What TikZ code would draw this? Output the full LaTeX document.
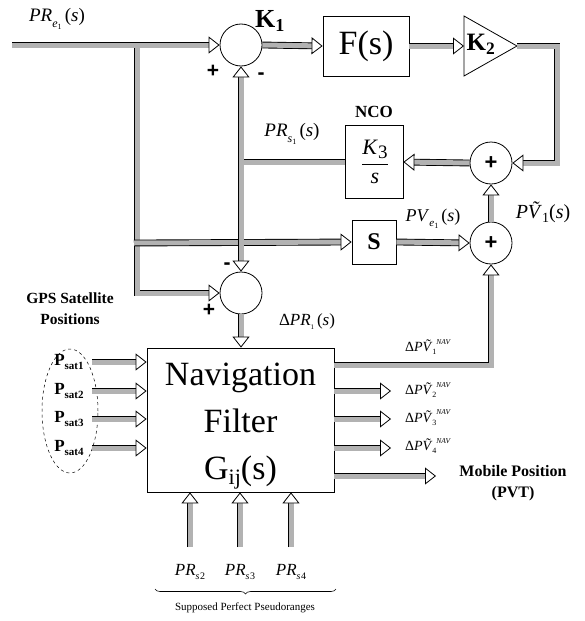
\documentclass[tikz,border=0pt]{standalone}
\usepackage{fontspec}
\setmainfont{Liberation Serif}
\setsansfont{Liberation Sans}
\usetikzlibrary{arrows.meta,shapes.geometric,decorations.pathreplacing,decorations.markings,calc}
\tikzset{
  pipe/.style={line width=0.9pt, draw=black, double=gray!60, double distance=5pt},
  pipearrow/.style={pipe, shorten >=8pt,
    postaction={decorate, decoration={markings, mark=at position 1 with {\arrow[line width=0.8pt, black]{Triangle[open,length=11pt,width=17pt,fill=white]}}}}},
  sumnode/.style={circle, draw, line width=0.8pt, minimum size=42pt, inner sep=0pt, font=\fontsize{22}{22}\selectfont\sffamily\bfseries},
  blockbox/.style={rectangle, draw, line width=0.8pt, inner sep=0pt},
  sgn/.style={font=\fontsize{21}{21}\selectfont\sffamily\bfseries, inner sep=0pt},
  lab/.style={inner sep=0pt},
}
\newcommand{\ssub}[1]{\textsubscript{#1}}
\begin{document}
\begin{tikzpicture}[x=1pt,y=-1pt]
\useasboundingbox (0,0) rectangle (585,621);
% blocks
\node[sumnode] (s1) at (241,45) {};
\node[sumnode] (s2) at (491,163) {+};
\node[sumnode] (s3) at (241,293) {};
\node[sumnode] (s4) at (491,243) {+};
\node[blockbox, minimum width=86pt, minimum height=60pt, font=\fontsize{34}{34}\selectfont] (F) at (366,46) {F(s)};
\draw[line width=0.8pt] (464,16) -- (517,46) -- (464,76) -- cycle;
\coordinate (k2in) at (464,46);
\coordinate (k2out) at (517,46);
\node[lab, font=\fontsize{25}{25}\selectfont\bfseries] (k2) at (481,44) {K\ssub{2}};
\node[blockbox, minimum width=58pt, minimum height=73pt] (nco) at (374,162) {};
\node[lab, font=\fontsize{22}{22}\selectfont] (frac) at (375,162) {$\displaystyle\frac{\mbox{\textit{K}\raisebox{-0.35ex}{\fontsize{19}{19}\selectfont 3}}}{\mbox{\textit{s}}}$};
\node[lab, font=\fontsize{17}{17}\selectfont\bfseries] (ncolab) at (374,112) {NCO};
\node[blockbox, minimum width=44pt, minimum height=44pt, font=\fontsize{24}{24}\selectfont\bfseries] (S) at (374,242) {S};
\node[blockbox, minimum width=187pt, minimum height=144pt] (nav) at (240.5,420) {};
\node[lab, align=center, font=\fontsize{34}{47}\selectfont] (navtxt) at (240.5,426) {Navigation\\Filter\\G\raisebox{-0.3ex}{\fontsize{22}{22}\selectfont ij}(s)};
\node[ellipse, draw, dashed, line width=0.5pt, minimum width=56pt, minimum height=124pt] (sats) at (70,411) {};
% coordinates
\coordinate (in) at (12,45);
\coordinate (b1) at (137,45);
\coordinate (b2) at (134,243);
\coordinate (fb) at (241,162);
\coordinate (c1) at (557,46);
% connectors
\draw[pipearrow] (b1) |- (s3.west);
\draw[pipearrow] (in) -- (s1);
\draw[pipearrow] (b2) -- (S.west);
\draw[pipe] (nco.west) -- (fb);
\draw[pipearrow] (fb) -- (s1.south);
\draw[pipearrow] (fb) -- (s3.north);
\draw[pipearrow] (s1.east) -- (F.west);
\draw[pipearrow] (F.east) -- (k2in);
\draw[pipearrow] (k2out) -- (c1) |- (s2.east);
\draw[pipearrow] (s2.west) -- (nco.east);
\draw[pipearrow] (S.east) -- (s4.west);
\draw[pipearrow] (s4.north) -- (s2.south);
\draw[pipearrow] (s3.south) -- (s3.south |- nav.north);
% satellite inputs
\foreach \i/\y in {1/362,2/391,3/419,4/448}{
  \coordinate (p\i) at (92,\y);
  \draw[pipearrow] (p\i) -- (p\i -| nav.west);
  \node[lab, font=\fontsize{17}{17}\selectfont\bfseries] (psat\i) at (69,\y) {P\raisebox{-0.45ex}{\fontsize{11}{11}\selectfont sat\i}};
}
% outputs
\coordinate (o1) at (334,365);
\draw[pipearrow] (o1) -| (s4.south);
\foreach \i/\y in {2/391,3/419,4/448}{
  \coordinate (o\i) at (334,\y);
  \coordinate (e\i) at (391,\y);
  \draw[pipearrow] (o\i) -- (e\i);
}
\coordinate (o5) at (334,476);
\coordinate (e5) at (436,476);
\draw[pipearrow] (o5) -- (e5);
% bottom inputs
\foreach \i/\x in {2/190,3/240,4/291}{
  \coordinate (q\i) at (\x,547);
  \draw[pipearrow] (q\i) -- (q\i |- nav.south);
  \node[lab, font=\fontsize{17}{17}\selectfont] (prs\i) at (\x,572) {\textit{PR}\raisebox{-0.5ex}{\fontsize{10}{10}\selectfont\textit{s}\kern0.5pt\i}};
}
\draw[line width=0.6pt, decorate, decoration={brace, amplitude=5pt}] (336,589) -- (155,589);
\node[lab, font=\fontsize{11}{11}\selectfont] (spp) at (245,608) {Supposed Perfect Pseudoranges};
% labels
\node[lab, font=\fontsize{19}{19}\selectfont] (pre) at (57,19) {\textit{PR}\raisebox{-0.6ex}{\fontsize{12}{12}\selectfont\textit{e}\raisebox{-0.4ex}{\fontsize{8}{8}\selectfont 1}}\,(\textit{s})};
\node[lab, font=\fontsize{26}{26}\selectfont\bfseries] (k1) at (270,21) {K\ssub{1}};
\node[sgn] (p1s) at (213,71) {+};
\node[sgn] (m1s) at (261,76) {-};
\node[sgn] (m3s) at (227,266) {-};
\node[sgn] (p3s) at (209,310) {+};
\node[lab, font=\fontsize{19}{19}\selectfont] (prs1) at (292,134) {\textit{PR}\raisebox{-0.6ex}{\fontsize{12}{12}\selectfont\textit{s}\raisebox{-0.4ex}{\fontsize{8}{8}\selectfont 1}}\,(\textit{s})};
\node[lab, font=\fontsize{18}{18}\selectfont] (pve) at (433,219) {\textit{PV}\raisebox{-0.6ex}{\fontsize{11}{11}\selectfont\textit{e}\raisebox{-0.4ex}{\fontsize{8}{8}\selectfont 1}}\,(\textit{s})};
\node[lab, font=\fontsize{20}{20}\selectfont] (pvt) at (543,212) {\textit{P\~V}\raisebox{-0.5ex}{\fontsize{14}{14}\selectfont 1}(\textit{s})};
\node[lab, font=\fontsize{17}{17}\selectfont] (dpr) at (307,322) {Δ\textit{PR}\raisebox{-0.5ex}{\fontsize{7}{7}\selectfont 1}\,(\textit{s})};
\node[lab, align=center, font=\fontsize{15.5}{21}\selectfont\bfseries] (gps) at (70,309) {GPS Satellite\\Positions};
\foreach \i/\y in {1/347,2/390,3/418,4/446}{
  \node[lab, font=\fontsize{14}{14}\selectfont] (dpv\i) at (428,\y) {Δ\textit{P\~V}\raisebox{-0.6ex}{\fontsize{8}{8}\selectfont \i}\raisebox{1.1ex}{\fontsize{7.5}{7.5}\selectfont\textit{NAV}}};
}
\node[lab, align=center, font=\fontsize{16}{21}\selectfont\bfseries] (mob) at (513,483) {Mobile Position\\(PVT)};
\end{tikzpicture}
\end{document}
